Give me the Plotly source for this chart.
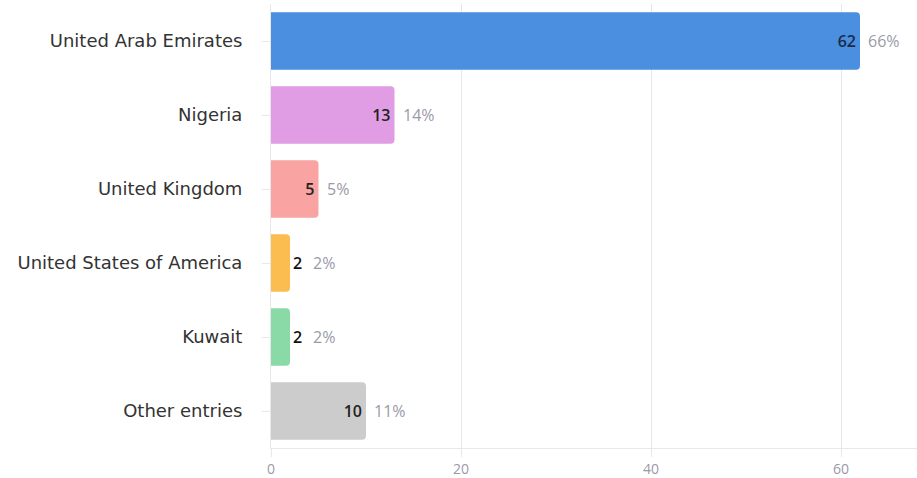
import plotly.graph_objects as go

categories = ["United Arab Emirates", "Nigeria", "United Kingdom",
              "United States of America", "Kuwait", "Other entries"]
values = [62, 13, 5, 2, 2, 10]
percents = ["66%", "14%", "5%", "2%", "2%", "11%"]
colors = ["#4A8FE0", "#E09DE3", "#F9A3A2", "#FBBD4F", "#8ADAA8", "#CCCCCC"]
value_colors = ["#1B2B4B", "#222222", "#222222", "#111111", "#111111", "#222222"]
x_ticks = [0, 20, 40, 60]

FONT = "Open Sans"
LABEL_FONT = "DejaVu Sans"
text_pos = ["inside" if v >= 5 else "outside" for v in values]

fig = go.Figure()
fig.add_trace(go.Bar(
    y=categories, x=values, orientation="h",
    marker=dict(color=colors, cornerradius=4, line=dict(width=0)),
    width=0.78,
    text=[str(v) for v in values],
    textposition=text_pos, insidetextanchor="end",
    textfont=dict(color=value_colors, size=16, family=FONT, weight=600),
    constraintext="none",
    cliponaxis=False,
))

for c, v, p in zip(categories, values, percents):
    fig.add_annotation(x=v, y=c, text=p, showarrow=False, xanchor="left",
                       xshift=6 if v >= 5 else 21,
                       font=dict(color="#9A9AA8", size=16, family=FONT))

fig.update_layout(
    width=917, height=478,
    margin=dict(l=271, r=0, t=4, b=30),
    paper_bgcolor="white", plot_bgcolor="white",
    showlegend=False,
    font=dict(family=FONT, color="#333333"),
)
fig.update_xaxes(range=[0, 68], tickvals=x_ticks, showgrid=True, gridcolor="#E8E8EC",
                 zeroline=False, showline=True, linecolor="#E8E8EC",
                 ticks="outside", ticklen=8, tickcolor="#E8E8EC",
                 tickfont=dict(size=14, color="#9A9AA8", family=FONT))
fig.update_yaxes(categoryorder="array", categoryarray=categories, autorange="reversed",
                 showline=True, linecolor="#E8E8EC", ticks="outside", ticklen=8,
                 tickcolor="#E8E8EC", showgrid=False, ticklabelstandoff=16,
                 tickfont=dict(size=18, color="#333333", family=LABEL_FONT))

fig.write_html("out.html", post_script="document.body.style.margin='0';",
               config={"displayModeBar": False})
